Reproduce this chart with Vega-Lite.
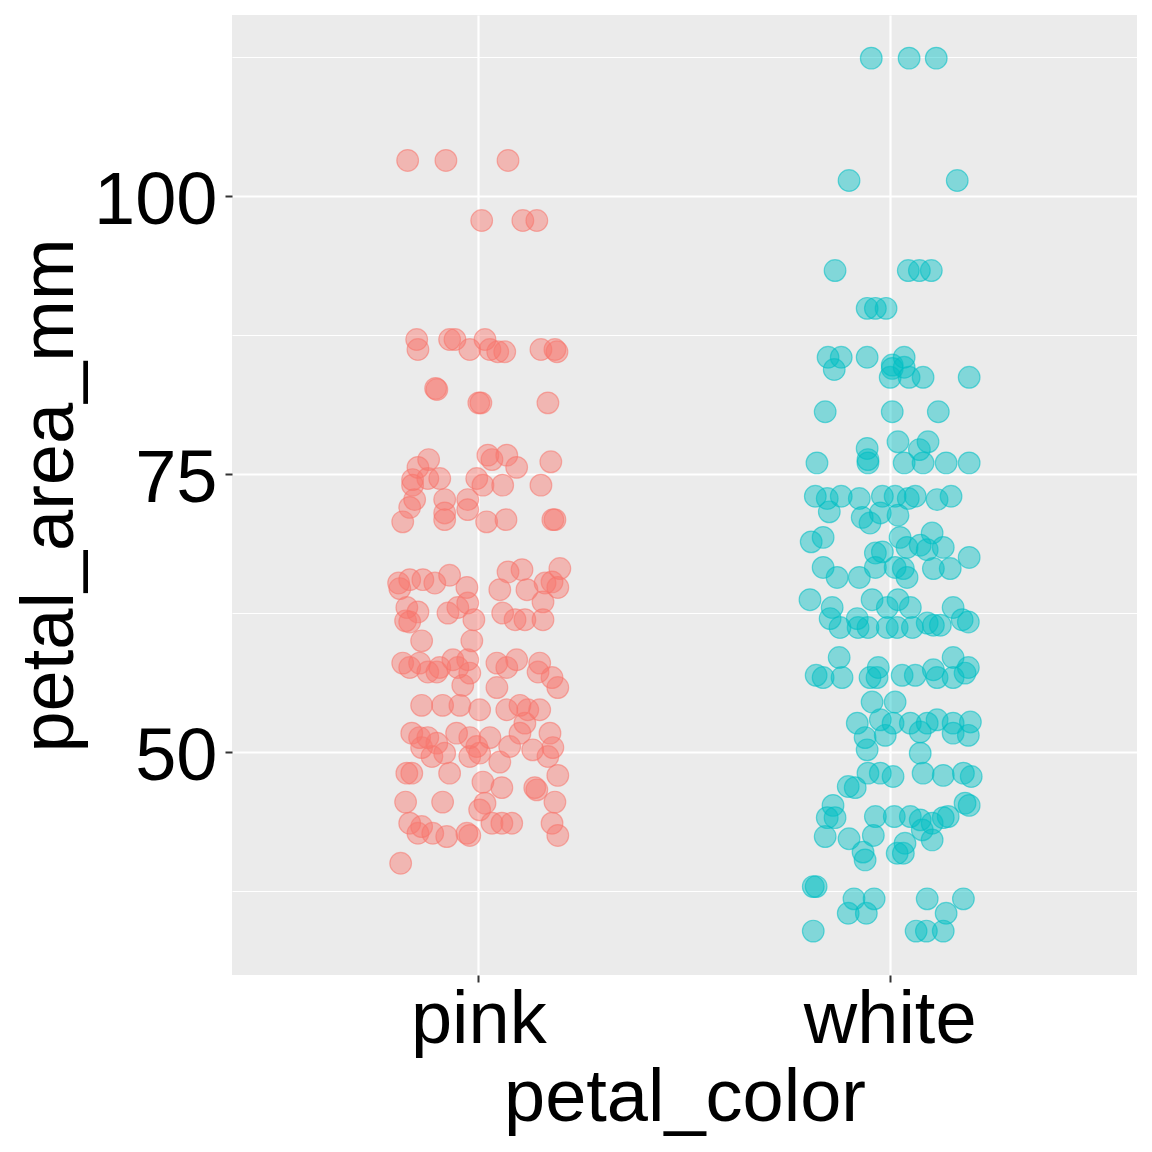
{
  "$schema": "https://vega.github.io/schema/vega-lite/v6.json",
  "width": 905,
  "height": 960,
  "autosize": {"type": "none"},
  "padding": {"left": 232, "top": 15, "right": 15, "bottom": 177},
  "background": "white",
  "config": {
    "view": {"fill": "#EBEBEB", "stroke": null},
    "font": "Liberation Sans",
    "axis": {
      "labelFont": "Liberation Sans",
      "titleFont": "Liberation Sans",
      "labelColor": "black",
      "titleColor": "black",
      "labelFontSize": 74,
      "titleFontSize": 74,
      "titleFontWeight": "normal",
      "domain": false,
      "grid": true,
      "gridColor": "white",
      "tickColor": "#333333",
      "tickWidth": 2,
      "tickSize": 7
    }
  },
  "data": {
    "values": [
      {"petal_color": "pink", "jitter": -0.173, "petal_area_mm": 103.2},
      {"petal_color": "pink", "jitter": -0.080, "petal_area_mm": 103.2},
      {"petal_color": "pink", "jitter": 0.071, "petal_area_mm": 103.2},
      {"petal_color": "pink", "jitter": 0.007, "petal_area_mm": 97.8},
      {"petal_color": "pink", "jitter": 0.107, "petal_area_mm": 97.8},
      {"petal_color": "pink", "jitter": 0.141, "petal_area_mm": 97.8},
      {"petal_color": "pink", "jitter": -0.151, "petal_area_mm": 87.1},
      {"petal_color": "pink", "jitter": -0.148, "petal_area_mm": 86.2},
      {"petal_color": "pink", "jitter": -0.071, "petal_area_mm": 87.1},
      {"petal_color": "pink", "jitter": -0.058, "petal_area_mm": 87.1},
      {"petal_color": "pink", "jitter": -0.022, "petal_area_mm": 86.2},
      {"petal_color": "pink", "jitter": 0.015, "petal_area_mm": 87.1},
      {"petal_color": "pink", "jitter": 0.027, "petal_area_mm": 86.2},
      {"petal_color": "pink", "jitter": 0.046, "petal_area_mm": 86.0},
      {"petal_color": "pink", "jitter": 0.063, "petal_area_mm": 86.0},
      {"petal_color": "pink", "jitter": 0.151, "petal_area_mm": 86.2},
      {"petal_color": "pink", "jitter": 0.185, "petal_area_mm": 86.2},
      {"petal_color": "pink", "jitter": 0.190, "petal_area_mm": 86.0},
      {"petal_color": "pink", "jitter": -0.105, "petal_area_mm": 82.7},
      {"petal_color": "pink", "jitter": -0.102, "petal_area_mm": 82.6},
      {"petal_color": "pink", "jitter": 0.000, "petal_area_mm": 81.4},
      {"petal_color": "pink", "jitter": 0.005, "petal_area_mm": 81.4},
      {"petal_color": "pink", "jitter": 0.168, "petal_area_mm": 81.4},
      {"petal_color": "pink", "jitter": -0.122, "petal_area_mm": 76.3},
      {"petal_color": "pink", "jitter": -0.148, "petal_area_mm": 75.6},
      {"petal_color": "pink", "jitter": -0.161, "petal_area_mm": 74.5},
      {"petal_color": "pink", "jitter": -0.161, "petal_area_mm": 74.0},
      {"petal_color": "pink", "jitter": -0.095, "petal_area_mm": 74.6},
      {"petal_color": "pink", "jitter": -0.124, "petal_area_mm": 74.6},
      {"petal_color": "pink", "jitter": -0.005, "petal_area_mm": 74.6},
      {"petal_color": "pink", "jitter": 0.010, "petal_area_mm": 74.0},
      {"petal_color": "pink", "jitter": 0.022, "petal_area_mm": 76.7},
      {"petal_color": "pink", "jitter": 0.032, "petal_area_mm": 76.3},
      {"petal_color": "pink", "jitter": 0.068, "petal_area_mm": 76.7},
      {"petal_color": "pink", "jitter": 0.092, "petal_area_mm": 75.6},
      {"petal_color": "pink", "jitter": 0.058, "petal_area_mm": 74.0},
      {"petal_color": "pink", "jitter": 0.175, "petal_area_mm": 76.1},
      {"petal_color": "pink", "jitter": 0.151, "petal_area_mm": 74.0},
      {"petal_color": "pink", "jitter": -0.168, "petal_area_mm": 72.0},
      {"petal_color": "pink", "jitter": -0.156, "petal_area_mm": 72.7},
      {"petal_color": "pink", "jitter": -0.185, "petal_area_mm": 70.7},
      {"petal_color": "pink", "jitter": -0.083, "petal_area_mm": 72.7},
      {"petal_color": "pink", "jitter": -0.083, "petal_area_mm": 70.9},
      {"petal_color": "pink", "jitter": -0.083, "petal_area_mm": 71.5},
      {"petal_color": "pink", "jitter": -0.027, "petal_area_mm": 72.7},
      {"petal_color": "pink", "jitter": -0.027, "petal_area_mm": 71.8},
      {"petal_color": "pink", "jitter": 0.019, "petal_area_mm": 70.7},
      {"petal_color": "pink", "jitter": 0.066, "petal_area_mm": 70.9},
      {"petal_color": "pink", "jitter": 0.180, "petal_area_mm": 70.9},
      {"petal_color": "pink", "jitter": 0.185, "petal_area_mm": 70.9},
      {"petal_color": "pink", "jitter": -0.195, "petal_area_mm": 65.2},
      {"petal_color": "pink", "jitter": -0.168, "petal_area_mm": 65.5},
      {"petal_color": "pink", "jitter": -0.136, "petal_area_mm": 65.5},
      {"petal_color": "pink", "jitter": -0.107, "petal_area_mm": 65.2},
      {"petal_color": "pink", "jitter": -0.071, "petal_area_mm": 65.9},
      {"petal_color": "pink", "jitter": -0.029, "petal_area_mm": 64.8},
      {"petal_color": "pink", "jitter": -0.192, "petal_area_mm": 64.7},
      {"petal_color": "pink", "jitter": -0.175, "petal_area_mm": 63.0},
      {"petal_color": "pink", "jitter": -0.148, "petal_area_mm": 62.6},
      {"petal_color": "pink", "jitter": -0.178, "petal_area_mm": 61.8},
      {"petal_color": "pink", "jitter": -0.168, "petal_area_mm": 61.7},
      {"petal_color": "pink", "jitter": -0.075, "petal_area_mm": 62.5},
      {"petal_color": "pink", "jitter": -0.051, "petal_area_mm": 63.0},
      {"petal_color": "pink", "jitter": -0.027, "petal_area_mm": 63.4},
      {"petal_color": "pink", "jitter": -0.012, "petal_area_mm": 61.9},
      {"petal_color": "pink", "jitter": 0.071, "petal_area_mm": 66.2},
      {"petal_color": "pink", "jitter": 0.105, "petal_area_mm": 66.4},
      {"petal_color": "pink", "jitter": 0.197, "petal_area_mm": 66.5},
      {"petal_color": "pink", "jitter": 0.051, "petal_area_mm": 64.6},
      {"petal_color": "pink", "jitter": 0.117, "petal_area_mm": 64.6},
      {"petal_color": "pink", "jitter": 0.161, "petal_area_mm": 65.2},
      {"petal_color": "pink", "jitter": 0.178, "petal_area_mm": 65.3},
      {"petal_color": "pink", "jitter": 0.192, "petal_area_mm": 64.8},
      {"petal_color": "pink", "jitter": 0.156, "petal_area_mm": 63.5},
      {"petal_color": "pink", "jitter": 0.058, "petal_area_mm": 62.5},
      {"petal_color": "pink", "jitter": 0.088, "petal_area_mm": 61.9},
      {"petal_color": "pink", "jitter": 0.112, "petal_area_mm": 61.9},
      {"petal_color": "pink", "jitter": 0.156, "petal_area_mm": 61.9},
      {"petal_color": "pink", "jitter": -0.139, "petal_area_mm": 60.0},
      {"petal_color": "pink", "jitter": -0.017, "petal_area_mm": 60.0},
      {"petal_color": "pink", "jitter": -0.185, "petal_area_mm": 58.0},
      {"petal_color": "pink", "jitter": -0.168, "petal_area_mm": 57.6},
      {"petal_color": "pink", "jitter": -0.144, "petal_area_mm": 58.0},
      {"petal_color": "pink", "jitter": -0.124, "petal_area_mm": 57.2},
      {"petal_color": "pink", "jitter": -0.102, "petal_area_mm": 57.2},
      {"petal_color": "pink", "jitter": -0.095, "petal_area_mm": 57.6},
      {"petal_color": "pink", "jitter": -0.063, "petal_area_mm": 58.3},
      {"petal_color": "pink", "jitter": -0.051, "petal_area_mm": 57.6},
      {"petal_color": "pink", "jitter": -0.027, "petal_area_mm": 58.3},
      {"petal_color": "pink", "jitter": -0.022, "petal_area_mm": 57.1},
      {"petal_color": "pink", "jitter": -0.039, "petal_area_mm": 56.0},
      {"petal_color": "pink", "jitter": 0.044, "petal_area_mm": 58.0},
      {"petal_color": "pink", "jitter": 0.068, "petal_area_mm": 57.6},
      {"petal_color": "pink", "jitter": 0.092, "petal_area_mm": 58.3},
      {"petal_color": "pink", "jitter": 0.148, "petal_area_mm": 58.0},
      {"petal_color": "pink", "jitter": 0.144, "petal_area_mm": 57.2},
      {"petal_color": "pink", "jitter": 0.178, "petal_area_mm": 56.7},
      {"petal_color": "pink", "jitter": 0.192, "petal_area_mm": 55.8},
      {"petal_color": "pink", "jitter": 0.044, "petal_area_mm": 55.8},
      {"petal_color": "pink", "jitter": -0.139, "petal_area_mm": 54.2},
      {"petal_color": "pink", "jitter": -0.088, "petal_area_mm": 54.2},
      {"petal_color": "pink", "jitter": -0.046, "petal_area_mm": 54.2},
      {"petal_color": "pink", "jitter": 0.002, "petal_area_mm": 53.8},
      {"petal_color": "pink", "jitter": 0.068, "petal_area_mm": 53.8},
      {"petal_color": "pink", "jitter": 0.100, "petal_area_mm": 54.2},
      {"petal_color": "pink", "jitter": 0.119, "petal_area_mm": 53.8},
      {"petal_color": "pink", "jitter": 0.148, "petal_area_mm": 53.8},
      {"petal_color": "pink", "jitter": -0.163, "petal_area_mm": 51.7},
      {"petal_color": "pink", "jitter": -0.144, "petal_area_mm": 51.3},
      {"petal_color": "pink", "jitter": -0.124, "petal_area_mm": 51.3},
      {"petal_color": "pink", "jitter": -0.102, "petal_area_mm": 50.8},
      {"petal_color": "pink", "jitter": -0.139, "petal_area_mm": 50.4},
      {"petal_color": "pink", "jitter": -0.114, "petal_area_mm": 49.6},
      {"petal_color": "pink", "jitter": -0.083, "petal_area_mm": 49.9},
      {"petal_color": "pink", "jitter": -0.054, "petal_area_mm": 51.7},
      {"petal_color": "pink", "jitter": -0.022, "petal_area_mm": 51.3},
      {"petal_color": "pink", "jitter": -0.005, "petal_area_mm": 50.5},
      {"petal_color": "pink", "jitter": 0.027, "petal_area_mm": 51.3},
      {"petal_color": "pink", "jitter": 0.002, "petal_area_mm": 49.9},
      {"petal_color": "pink", "jitter": -0.022, "petal_area_mm": 49.6},
      {"petal_color": "pink", "jitter": 0.051, "petal_area_mm": 49.1},
      {"petal_color": "pink", "jitter": 0.075, "petal_area_mm": 50.5},
      {"petal_color": "pink", "jitter": 0.100, "petal_area_mm": 51.7},
      {"petal_color": "pink", "jitter": 0.112, "petal_area_mm": 52.6},
      {"petal_color": "pink", "jitter": 0.131, "petal_area_mm": 50.2},
      {"petal_color": "pink", "jitter": 0.173, "petal_area_mm": 51.7},
      {"petal_color": "pink", "jitter": 0.180, "petal_area_mm": 50.4},
      {"petal_color": "pink", "jitter": 0.168, "petal_area_mm": 49.6},
      {"petal_color": "pink", "jitter": -0.175, "petal_area_mm": 48.1},
      {"petal_color": "pink", "jitter": -0.163, "petal_area_mm": 48.1},
      {"petal_color": "pink", "jitter": -0.071, "petal_area_mm": 48.1},
      {"petal_color": "pink", "jitter": 0.010, "petal_area_mm": 47.3},
      {"petal_color": "pink", "jitter": 0.056, "petal_area_mm": 46.8},
      {"petal_color": "pink", "jitter": 0.136, "petal_area_mm": 46.8},
      {"petal_color": "pink", "jitter": 0.141, "petal_area_mm": 46.6},
      {"petal_color": "pink", "jitter": 0.192, "petal_area_mm": 47.9},
      {"petal_color": "pink", "jitter": -0.178, "petal_area_mm": 45.5},
      {"petal_color": "pink", "jitter": -0.088, "petal_area_mm": 45.5},
      {"petal_color": "pink", "jitter": 0.015, "petal_area_mm": 45.4},
      {"petal_color": "pink", "jitter": 0.002, "petal_area_mm": 44.8},
      {"petal_color": "pink", "jitter": 0.185, "petal_area_mm": 45.5},
      {"petal_color": "pink", "jitter": -0.168, "petal_area_mm": 43.6},
      {"petal_color": "pink", "jitter": -0.139, "petal_area_mm": 43.3},
      {"petal_color": "pink", "jitter": -0.148, "petal_area_mm": 42.7},
      {"petal_color": "pink", "jitter": -0.112, "petal_area_mm": 42.7},
      {"petal_color": "pink", "jitter": -0.078, "petal_area_mm": 42.4},
      {"petal_color": "pink", "jitter": -0.029, "petal_area_mm": 42.7},
      {"petal_color": "pink", "jitter": -0.022, "petal_area_mm": 42.5},
      {"petal_color": "pink", "jitter": 0.032, "petal_area_mm": 43.6},
      {"petal_color": "pink", "jitter": 0.056, "petal_area_mm": 43.6},
      {"petal_color": "pink", "jitter": 0.080, "petal_area_mm": 43.6},
      {"petal_color": "pink", "jitter": 0.178, "petal_area_mm": 43.6},
      {"petal_color": "pink", "jitter": 0.192, "petal_area_mm": 42.5},
      {"petal_color": "pink", "jitter": -0.190, "petal_area_mm": 40.0},
      {"petal_color": "white", "jitter": -0.046, "petal_area_mm": 112.4},
      {"petal_color": "white", "jitter": 0.046, "petal_area_mm": 112.4},
      {"petal_color": "white", "jitter": 0.112, "petal_area_mm": 112.4},
      {"petal_color": "white", "jitter": -0.100, "petal_area_mm": 101.4},
      {"petal_color": "white", "jitter": 0.163, "petal_area_mm": 101.4},
      {"petal_color": "white", "jitter": -0.134, "petal_area_mm": 93.3},
      {"petal_color": "white", "jitter": 0.044, "petal_area_mm": 93.3},
      {"petal_color": "white", "jitter": 0.071, "petal_area_mm": 93.3},
      {"petal_color": "white", "jitter": 0.100, "petal_area_mm": 93.3},
      {"petal_color": "white", "jitter": -0.056, "petal_area_mm": 89.9},
      {"petal_color": "white", "jitter": -0.036, "petal_area_mm": 89.9},
      {"petal_color": "white", "jitter": -0.010, "petal_area_mm": 89.9},
      {"petal_color": "white", "jitter": -0.151, "petal_area_mm": 85.5},
      {"petal_color": "white", "jitter": -0.119, "petal_area_mm": 85.5},
      {"petal_color": "white", "jitter": -0.136, "petal_area_mm": 84.4},
      {"petal_color": "white", "jitter": -0.056, "petal_area_mm": 85.5},
      {"petal_color": "white", "jitter": 0.005, "petal_area_mm": 84.8},
      {"petal_color": "white", "jitter": 0.000, "petal_area_mm": 83.7},
      {"petal_color": "white", "jitter": 0.034, "petal_area_mm": 85.5},
      {"petal_color": "white", "jitter": 0.034, "petal_area_mm": 84.6},
      {"petal_color": "white", "jitter": 0.046, "petal_area_mm": 83.7},
      {"petal_color": "white", "jitter": 0.080, "petal_area_mm": 83.7},
      {"petal_color": "white", "jitter": 0.192, "petal_area_mm": 83.7},
      {"petal_color": "white", "jitter": 0.005, "petal_area_mm": 84.5},
      {"petal_color": "white", "jitter": -0.158, "petal_area_mm": 80.6},
      {"petal_color": "white", "jitter": 0.005, "petal_area_mm": 80.6},
      {"petal_color": "white", "jitter": 0.117, "petal_area_mm": 80.6},
      {"petal_color": "white", "jitter": 0.019, "petal_area_mm": 77.9},
      {"petal_color": "white", "jitter": 0.092, "petal_area_mm": 77.9},
      {"petal_color": "white", "jitter": -0.056, "petal_area_mm": 77.3},
      {"petal_color": "white", "jitter": -0.054, "petal_area_mm": 76.3},
      {"petal_color": "white", "jitter": -0.054, "petal_area_mm": 76.0},
      {"petal_color": "white", "jitter": -0.178, "petal_area_mm": 76.0},
      {"petal_color": "white", "jitter": 0.034, "petal_area_mm": 76.0},
      {"petal_color": "white", "jitter": 0.071, "petal_area_mm": 77.2},
      {"petal_color": "white", "jitter": 0.080, "petal_area_mm": 76.0},
      {"petal_color": "white", "jitter": 0.136, "petal_area_mm": 76.0},
      {"petal_color": "white", "jitter": 0.192, "petal_area_mm": 76.0},
      {"petal_color": "white", "jitter": -0.182, "petal_area_mm": 73.0},
      {"petal_color": "white", "jitter": -0.153, "petal_area_mm": 72.8},
      {"petal_color": "white", "jitter": -0.119, "petal_area_mm": 73.0},
      {"petal_color": "white", "jitter": -0.075, "petal_area_mm": 72.8},
      {"petal_color": "white", "jitter": -0.019, "petal_area_mm": 73.0},
      {"petal_color": "white", "jitter": 0.012, "petal_area_mm": 73.0},
      {"petal_color": "white", "jitter": 0.044, "petal_area_mm": 72.8},
      {"petal_color": "white", "jitter": 0.061, "petal_area_mm": 73.0},
      {"petal_color": "white", "jitter": 0.114, "petal_area_mm": 72.7},
      {"petal_color": "white", "jitter": 0.148, "petal_area_mm": 73.0},
      {"petal_color": "white", "jitter": -0.148, "petal_area_mm": 71.6},
      {"petal_color": "white", "jitter": -0.068, "petal_area_mm": 71.1},
      {"petal_color": "white", "jitter": -0.024, "petal_area_mm": 71.5},
      {"petal_color": "white", "jitter": -0.049, "petal_area_mm": 70.6},
      {"petal_color": "white", "jitter": 0.019, "petal_area_mm": 71.3},
      {"petal_color": "white", "jitter": -0.192, "petal_area_mm": 68.9},
      {"petal_color": "white", "jitter": -0.163, "petal_area_mm": 69.3},
      {"petal_color": "white", "jitter": 0.024, "petal_area_mm": 69.3},
      {"petal_color": "white", "jitter": 0.102, "petal_area_mm": 69.7},
      {"petal_color": "white", "jitter": -0.036, "petal_area_mm": 67.9},
      {"petal_color": "white", "jitter": -0.019, "petal_area_mm": 68.0},
      {"petal_color": "white", "jitter": 0.041, "petal_area_mm": 68.4},
      {"petal_color": "white", "jitter": 0.073, "petal_area_mm": 68.6},
      {"petal_color": "white", "jitter": 0.090, "petal_area_mm": 68.2},
      {"petal_color": "white", "jitter": 0.129, "petal_area_mm": 68.4},
      {"petal_color": "white", "jitter": 0.146, "petal_area_mm": 66.5},
      {"petal_color": "white", "jitter": 0.192, "petal_area_mm": 67.5},
      {"petal_color": "white", "jitter": 0.032, "petal_area_mm": 66.5},
      {"petal_color": "white", "jitter": 0.041, "petal_area_mm": 65.7},
      {"petal_color": "white", "jitter": 0.105, "petal_area_mm": 66.5},
      {"petal_color": "white", "jitter": -0.163, "petal_area_mm": 66.6},
      {"petal_color": "white", "jitter": -0.129, "petal_area_mm": 65.7},
      {"petal_color": "white", "jitter": -0.075, "petal_area_mm": 65.7},
      {"petal_color": "white", "jitter": -0.036, "petal_area_mm": 66.6},
      {"petal_color": "white", "jitter": 0.012, "petal_area_mm": 66.6},
      {"petal_color": "white", "jitter": -0.195, "petal_area_mm": 63.7},
      {"petal_color": "white", "jitter": -0.141, "petal_area_mm": 63.0},
      {"petal_color": "white", "jitter": -0.146, "petal_area_mm": 62.0},
      {"petal_color": "white", "jitter": -0.122, "petal_area_mm": 61.2},
      {"petal_color": "white", "jitter": -0.080, "petal_area_mm": 62.0},
      {"petal_color": "white", "jitter": -0.078, "petal_area_mm": 61.2},
      {"petal_color": "white", "jitter": -0.054, "petal_area_mm": 61.2},
      {"petal_color": "white", "jitter": -0.044, "petal_area_mm": 63.7},
      {"petal_color": "white", "jitter": -0.007, "petal_area_mm": 63.0},
      {"petal_color": "white", "jitter": 0.019, "petal_area_mm": 63.7},
      {"petal_color": "white", "jitter": 0.049, "petal_area_mm": 63.0},
      {"petal_color": "white", "jitter": -0.007, "petal_area_mm": 61.2},
      {"petal_color": "white", "jitter": 0.017, "petal_area_mm": 61.2},
      {"petal_color": "white", "jitter": 0.054, "petal_area_mm": 61.2},
      {"petal_color": "white", "jitter": 0.090, "petal_area_mm": 61.6},
      {"petal_color": "white", "jitter": 0.105, "petal_area_mm": 61.4},
      {"petal_color": "white", "jitter": 0.122, "petal_area_mm": 61.4},
      {"petal_color": "white", "jitter": 0.153, "petal_area_mm": 63.0},
      {"petal_color": "white", "jitter": 0.175, "petal_area_mm": 61.9},
      {"petal_color": "white", "jitter": 0.190, "petal_area_mm": 61.7},
      {"petal_color": "white", "jitter": -0.124, "petal_area_mm": 58.5},
      {"petal_color": "white", "jitter": -0.180, "petal_area_mm": 56.9},
      {"petal_color": "white", "jitter": -0.163, "petal_area_mm": 56.7},
      {"petal_color": "white", "jitter": -0.117, "petal_area_mm": 56.7},
      {"petal_color": "white", "jitter": -0.049, "petal_area_mm": 56.7},
      {"petal_color": "white", "jitter": -0.029, "petal_area_mm": 57.6},
      {"petal_color": "white", "jitter": -0.032, "petal_area_mm": 56.7},
      {"petal_color": "white", "jitter": 0.029, "petal_area_mm": 56.9},
      {"petal_color": "white", "jitter": 0.061, "petal_area_mm": 56.9},
      {"petal_color": "white", "jitter": 0.105, "petal_area_mm": 57.4},
      {"petal_color": "white", "jitter": 0.114, "petal_area_mm": 56.7},
      {"petal_color": "white", "jitter": 0.153, "petal_area_mm": 58.5},
      {"petal_color": "white", "jitter": 0.153, "petal_area_mm": 56.7},
      {"petal_color": "white", "jitter": 0.182, "petal_area_mm": 57.1},
      {"petal_color": "white", "jitter": 0.190, "petal_area_mm": 57.6},
      {"petal_color": "white", "jitter": -0.044, "petal_area_mm": 54.5},
      {"petal_color": "white", "jitter": 0.012, "petal_area_mm": 54.5},
      {"petal_color": "white", "jitter": -0.080, "petal_area_mm": 52.6},
      {"petal_color": "white", "jitter": -0.024, "petal_area_mm": 52.9},
      {"petal_color": "white", "jitter": 0.007, "petal_area_mm": 52.6},
      {"petal_color": "white", "jitter": 0.049, "petal_area_mm": 52.6},
      {"petal_color": "white", "jitter": 0.090, "petal_area_mm": 52.6},
      {"petal_color": "white", "jitter": 0.114, "petal_area_mm": 52.9},
      {"petal_color": "white", "jitter": 0.153, "petal_area_mm": 52.6},
      {"petal_color": "white", "jitter": 0.195, "petal_area_mm": 52.7},
      {"petal_color": "white", "jitter": -0.061, "petal_area_mm": 51.3},
      {"petal_color": "white", "jitter": -0.012, "petal_area_mm": 51.5},
      {"petal_color": "white", "jitter": 0.073, "petal_area_mm": 51.8},
      {"petal_color": "white", "jitter": 0.153, "petal_area_mm": 51.7},
      {"petal_color": "white", "jitter": 0.190, "petal_area_mm": 51.5},
      {"petal_color": "white", "jitter": -0.056, "petal_area_mm": 50.2},
      {"petal_color": "white", "jitter": 0.073, "petal_area_mm": 49.9},
      {"petal_color": "white", "jitter": -0.054, "petal_area_mm": 48.1},
      {"petal_color": "white", "jitter": -0.024, "petal_area_mm": 48.1},
      {"petal_color": "white", "jitter": 0.007, "petal_area_mm": 47.8},
      {"petal_color": "white", "jitter": 0.080, "petal_area_mm": 48.1},
      {"petal_color": "white", "jitter": 0.129, "petal_area_mm": 47.9},
      {"petal_color": "white", "jitter": 0.178, "petal_area_mm": 48.1},
      {"petal_color": "white", "jitter": 0.197, "petal_area_mm": 47.8},
      {"petal_color": "white", "jitter": -0.102, "petal_area_mm": 46.9},
      {"petal_color": "white", "jitter": -0.085, "petal_area_mm": 46.8},
      {"petal_color": "white", "jitter": -0.139, "petal_area_mm": 45.2},
      {"petal_color": "white", "jitter": -0.153, "petal_area_mm": 44.1},
      {"petal_color": "white", "jitter": -0.134, "petal_area_mm": 44.1},
      {"petal_color": "white", "jitter": -0.158, "petal_area_mm": 42.4},
      {"petal_color": "white", "jitter": -0.100, "petal_area_mm": 42.2},
      {"petal_color": "white", "jitter": -0.041, "petal_area_mm": 42.5},
      {"petal_color": "white", "jitter": -0.066, "petal_area_mm": 41.0},
      {"petal_color": "white", "jitter": -0.061, "petal_area_mm": 40.3},
      {"petal_color": "white", "jitter": -0.036, "petal_area_mm": 44.2},
      {"petal_color": "white", "jitter": 0.010, "petal_area_mm": 44.2},
      {"petal_color": "white", "jitter": 0.049, "petal_area_mm": 44.2},
      {"petal_color": "white", "jitter": 0.073, "petal_area_mm": 43.9},
      {"petal_color": "white", "jitter": 0.102, "petal_area_mm": 43.6},
      {"petal_color": "white", "jitter": 0.129, "petal_area_mm": 44.1},
      {"petal_color": "white", "jitter": 0.141, "petal_area_mm": 44.2},
      {"petal_color": "white", "jitter": 0.182, "petal_area_mm": 45.4},
      {"petal_color": "white", "jitter": 0.192, "petal_area_mm": 45.2},
      {"petal_color": "white", "jitter": 0.078, "petal_area_mm": 43.0},
      {"petal_color": "white", "jitter": 0.102, "petal_area_mm": 42.1},
      {"petal_color": "white", "jitter": 0.036, "petal_area_mm": 41.8},
      {"petal_color": "white", "jitter": 0.017, "petal_area_mm": 40.9},
      {"petal_color": "white", "jitter": 0.032, "petal_area_mm": 40.9},
      {"petal_color": "white", "jitter": -0.187, "petal_area_mm": 37.9},
      {"petal_color": "white", "jitter": -0.180, "petal_area_mm": 37.9},
      {"petal_color": "white", "jitter": -0.088, "petal_area_mm": 36.8},
      {"petal_color": "white", "jitter": -0.039, "petal_area_mm": 36.8},
      {"petal_color": "white", "jitter": -0.102, "petal_area_mm": 35.5},
      {"petal_color": "white", "jitter": -0.058, "petal_area_mm": 35.5},
      {"petal_color": "white", "jitter": 0.090, "petal_area_mm": 36.8},
      {"petal_color": "white", "jitter": 0.178, "petal_area_mm": 36.8},
      {"petal_color": "white", "jitter": 0.136, "petal_area_mm": 35.5},
      {"petal_color": "white", "jitter": -0.187, "petal_area_mm": 33.9},
      {"petal_color": "white", "jitter": 0.063, "petal_area_mm": 33.9},
      {"petal_color": "white", "jitter": 0.088, "petal_area_mm": 33.9},
      {"petal_color": "white", "jitter": 0.129, "petal_area_mm": 33.9}
    ]
  },
  "mark": {"type": "point", "shape": "circle", "filled": true, "size": 470, "strokeWidth": 1.2, "fillOpacity": 0.45, "strokeOpacity": 0.55},
  "encoding": {
    "x": {
      "field": "petal_color",
      "type": "nominal",
      "scale": {"type": "band", "paddingInner": 0, "paddingOuter": 0.1},
      "axis": {
        "bandPosition": 0.5,
        "labelAngle": 0,
        "labelBaseline": "alphabetic",
        "labelPadding": 60,
        "gridWidth": 2.2,
        "title": "petal_color",
        "titleBaseline": "alphabetic",
        "titleY": 145
      }
    },
    "xOffset": {
      "field": "jitter",
      "type": "quantitative",
      "scale": {"domain": [-0.5, 0.5]}
    },
    "y": {
      "field": "petal_area_mm",
      "type": "quantitative",
      "scale": {"domain": [29.95, 116.28], "nice": false, "zero": false},
      "axis": {
        "values": [37.5, 50, 62.5, 75, 87.5, 100, 112.5],
        "labelExpr": "datum.value % 25 == 0 ? datum.label : ''",
        "labelBaseline": "alphabetic",
        "labelOffset": 27,
        "labelPadding": 8,
        "gridWidth": {"condition": {"test": "datum.value % 25 == 0", "value": 2.2}, "value": 1.1},
        "tickOpacity": {"condition": {"test": "datum.value % 25 == 0", "value": 1}, "value": 0},
        "title": "petal_area_mm",
        "titleAngle": 270,
        "titleAlign": "center",
        "titleBaseline": "alphabetic",
        "titleX": -160,
        "titleY": 480
      }
    },
    "fill": {
      "field": "petal_color",
      "type": "nominal",
      "scale": {"domain": ["pink", "white"], "range": ["#F8766D", "#00BFC4"]},
      "legend": null
    },
    "stroke": {
      "field": "petal_color",
      "type": "nominal",
      "scale": {"domain": ["pink", "white"], "range": ["#F8766D", "#00BFC4"]},
      "legend": null
    }
  }
}
